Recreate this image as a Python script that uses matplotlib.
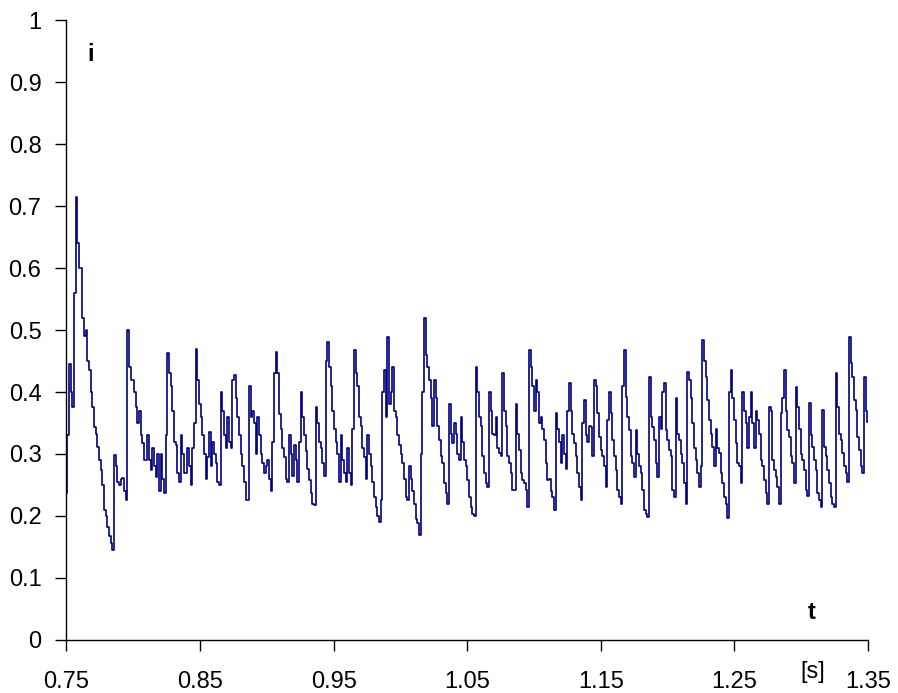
import matplotlib
matplotlib.use("Agg")
import matplotlib.pyplot as plt
import numpy as np

plt.rcParams["font.family"] = ["Liberation Sans", "DejaVu Sans"]

# ── Data: current i over time t, sampled evenly between 0.75 s and 1.35 s ────
T_START, T_END = 0.75, 1.35

i_start = [0.237, 0.33, 0.445, 0.40, 0.376, 0.56, 0.715, 0.64, 0.60, 0.60,
           0.52, 0.49, 0.50, 0.45, 0.435, 0.40, 0.376, 0.344, 0.333, 0.312,
           0.29, 0.274, 0.25, 0.21, 0.20, 0.183, 0.167, 0.156, 0.145, 0.298,
           0.28, 0.255, 0.25, 0.26, 0.262, 0.24, 0.226, 0.50, 0.44, 0.42,
           0.42, 0.40, 0.376, 0.35, 0.37, 0.33, 0.318, 0.29, 0.29, 0.33,
           0.29, 0.274, 0.31, 0.28, 0.263, 0.30]

i_part2 = [0.24, 0.30, 0.26, 0.237, 0.33, 0.463, 0.43, 0.41, 0.37, 0.32,
           0.315, 0.27, 0.255, 0.33, 0.30, 0.27, 0.27, 0.31, 0.28, 0.25,
           0.31, 0.35, 0.47, 0.42, 0.38, 0.36, 0.33, 0.30, 0.26, 0.295,
           0.335, 0.28, 0.32, 0.30, 0.285, 0.255, 0.25, 0.40, 0.37, 0.33,
           0.31, 0.36, 0.32, 0.31, 0.42, 0.427, 0.39, 0.36, 0.33, 0.30,
           0.28, 0.255, 0.226, 0.226, 0.41, 0.36, 0.37, 0.35, 0.30, 0.36,
           0.33, 0.30, 0.285, 0.27, 0.28, 0.29, 0.26, 0.24, 0.32, 0.43,
           0.465, 0.43, 0.365, 0.34, 0.31, 0.295, 0.26, 0.255]

i_part3 = [0.33, 0.30, 0.265, 0.315, 0.29, 0.255, 0.32, 0.40, 0.36, 0.33,
           0.305, 0.275, 0.258, 0.237, 0.22, 0.218, 0.376, 0.35, 0.32, 0.31,
           0.285, 0.265, 0.45, 0.48, 0.44, 0.41, 0.37, 0.34, 0.32, 0.30,
           0.255, 0.33, 0.29, 0.27, 0.255, 0.31, 0.27, 0.25, 0.34, 0.468,
           0.43, 0.41, 0.36, 0.345, 0.31, 0.295, 0.26, 0.33, 0.30, 0.28,
           0.255, 0.23, 0.215, 0.20, 0.19, 0.226, 0.40, 0.435, 0.36, 0.489,
           0.38, 0.40, 0.44, 0.37, 0.36, 0.33, 0.315, 0.30, 0.285, 0.26,
           0.23, 0.226, 0.28, 0.26, 0.24, 0.22, 0.195, 0.188]

i_part4 = [0.17, 0.30, 0.40, 0.52, 0.46, 0.44, 0.42, 0.39, 0.345, 0.42,
           0.39, 0.345, 0.323, 0.296, 0.285, 0.253, 0.237, 0.22, 0.38, 0.333,
           0.317, 0.35, 0.333, 0.30, 0.29, 0.36, 0.32, 0.29, 0.28, 0.258,
           0.231, 0.215, 0.204, 0.20, 0.44, 0.40, 0.36, 0.345, 0.296, 0.269,
           0.253, 0.247, 0.40, 0.37, 0.333, 0.33, 0.36, 0.31, 0.301, 0.296,
           0.43, 0.37, 0.345, 0.296, 0.285, 0.269, 0.242, 0.242, 0.38, 0.333,
           0.306, 0.27, 0.258, 0.253, 0.242, 0.215, 0.468, 0.44, 0.41, 0.37,
           0.42, 0.40, 0.35, 0.36, 0.34, 0.323, 0.285, 0.258]

i_part5 = [0.26, 0.24, 0.231, 0.21, 0.366, 0.34, 0.32, 0.285, 0.33, 0.30,
           0.275, 0.37, 0.414, 0.37, 0.333, 0.317, 0.296, 0.269, 0.247, 0.226,
           0.35, 0.387, 0.33, 0.32, 0.345, 0.344, 0.296, 0.42, 0.41, 0.366,
           0.328, 0.306, 0.296, 0.28, 0.247, 0.355, 0.40, 0.366, 0.323, 0.296,
           0.274, 0.242, 0.231, 0.22, 0.41, 0.468, 0.392, 0.36, 0.339, 0.296,
           0.285, 0.263, 0.339, 0.30, 0.28, 0.269, 0.242, 0.21, 0.204, 0.198,
           0.424, 0.36, 0.344, 0.323, 0.285, 0.263, 0.36, 0.34, 0.40, 0.414,
           0.339, 0.323, 0.306, 0.296, 0.242, 0.231, 0.39, 0.333]

i_part6 = [0.323, 0.30, 0.285, 0.253, 0.22, 0.433, 0.42, 0.39, 0.35, 0.31,
           0.29, 0.27, 0.247, 0.28, 0.484, 0.45, 0.425, 0.387, 0.355, 0.333,
           0.312, 0.28, 0.34, 0.31, 0.301, 0.269, 0.253, 0.231, 0.22, 0.196,
           0.40, 0.435, 0.39, 0.355, 0.317, 0.285, 0.28, 0.253, 0.40, 0.37,
           0.35, 0.31, 0.36, 0.40, 0.35, 0.31, 0.37, 0.355, 0.333, 0.29,
           0.28, 0.258, 0.237, 0.22, 0.376, 0.37, 0.29, 0.274, 0.263, 0.247,
           0.22, 0.366, 0.39, 0.435, 0.37, 0.339, 0.328, 0.296, 0.285, 0.253,
           0.408, 0.376]

i_end = [0.34, 0.30, 0.29, 0.274, 0.242, 0.232, 0.382, 0.33, 0.312, 0.29,
         0.274, 0.237, 0.226, 0.215, 0.371, 0.312, 0.296, 0.274, 0.253, 0.231,
         0.22, 0.215, 0.43, 0.376, 0.333, 0.323, 0.301, 0.28, 0.269, 0.255,
         0.489, 0.446, 0.425, 0.387, 0.371, 0.328, 0.306, 0.28, 0.27, 0.425,
         0.37, 0.351]

i_vals = np.array(i_start + i_part2 + i_part3 + i_part4 + i_part5 + i_part6 + i_end)
t_vals = np.linspace(T_START, T_END, len(i_vals))

x_ticks = [0.75, 0.85, 0.95, 1.05, 1.15, 1.25, 1.35]
y_ticks = [0, 0.1, 0.2, 0.3, 0.4, 0.5, 0.6, 0.7, 0.8, 0.9, 1]
y_labels = ["0", "0.1", "0.2", "0.3", "0.4", "0.5", "0.6", "0.7", "0.8", "0.9", "1"]

LINE_COLOR = "#000080"

fig = plt.figure(figsize=(8.98, 6.93), dpi=100, facecolor="white")
ax = fig.add_axes([0.074, 0.0765, 0.8926, 0.8946])

ax.plot(t_vals, i_vals, color=LINE_COLOR, lw=1.2, drawstyle="steps-mid")

ax.set_xlim(T_START, T_END)
ax.set_ylim(0, 1)
ax.set_xticks(x_ticks)
ax.set_xticklabels([f"{v:.2f}" for v in x_ticks])
ax.set_yticks(y_ticks)
ax.set_yticklabels(y_labels)

for side in ("top", "right"):
    ax.spines[side].set_visible(False)
for side in ("left", "bottom"):
    ax.spines[side].set_linewidth(1.0)
    ax.spines[side].set_color("black")

ax.tick_params(axis="both", direction="out", length=8, width=1.0,
               labelsize=17, colors="black")
ax.tick_params(axis="x", pad=14)
ax.tick_params(axis="y", pad=10)

ax.text(0.768, 0.944, "i", ha="center", va="center", fontsize=17,
        fontweight="bold")
ax.text(1.308, 0.045, "t", ha="center", va="center", fontsize=17,
        fontweight="bold")
fig.text(0.905, 0.030, "[s]", ha="center", va="center", fontsize=17)

fig.savefig("out.png", dpi=100, facecolor="white")
